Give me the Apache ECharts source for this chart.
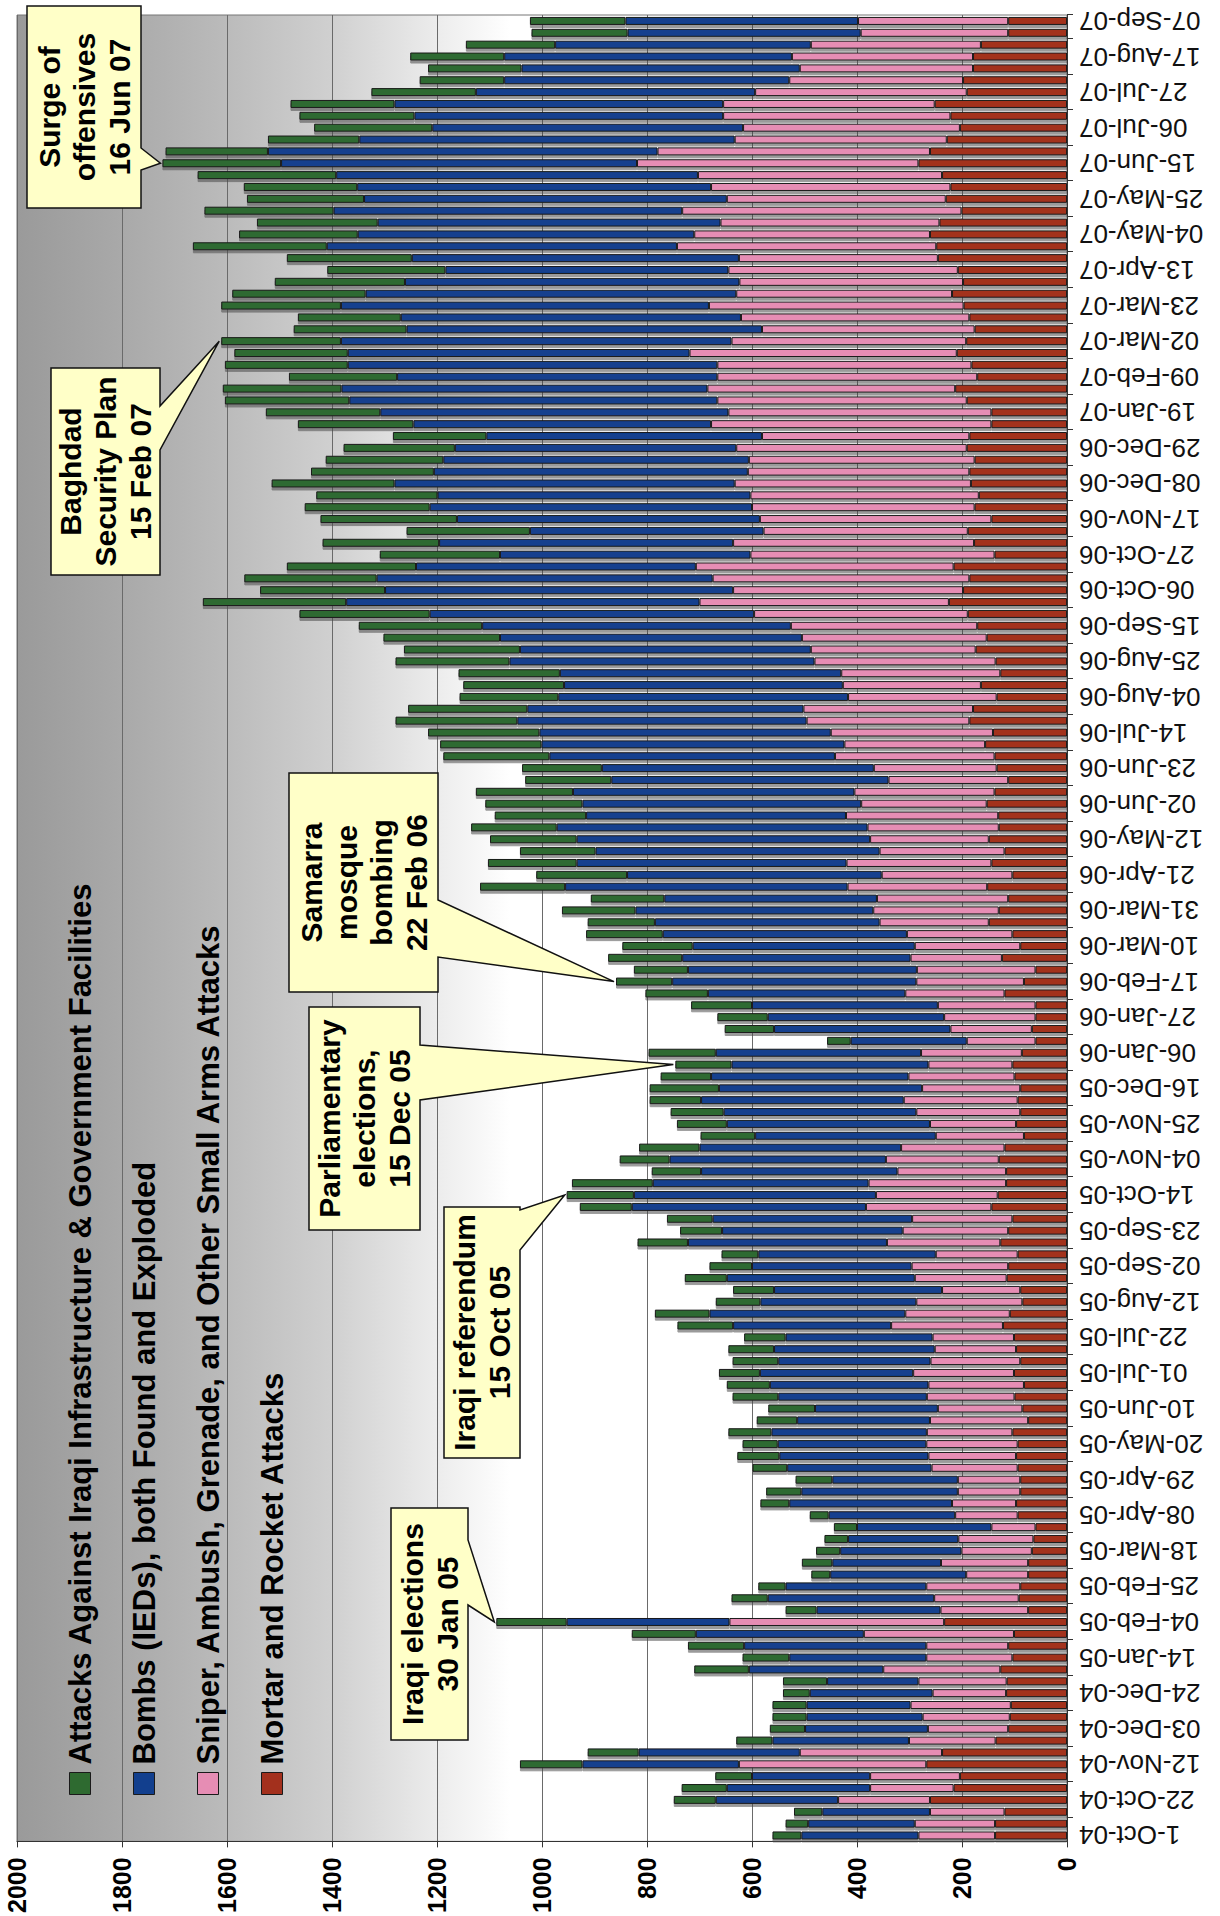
<!DOCTYPE html>
<html>
<head>
<meta charset="utf-8">
<title>Weekly attacks in Iraq, Oct 2004 - Sep 2007</title>
<script src="https://cdn.jsdelivr.net/npm/echarts@6/dist/echarts.min.js"></script>
<style>
  html, body { margin: 0; padding: 0; background: #fff; }
  body { width: 1220px; height: 1916px; overflow: hidden; position: relative; }
  /* chart is laid out landscape, then turned a quarter turn like the scanned page */
  #chart {
    position: absolute; left: 0; top: 0;
    width: 1916px; height: 1220px;
    transform-origin: 0 0;
    transform: translateY(1916px) rotate(-90deg);
  }
</style>
</head>
<body>
<div id="chart"></div>
<script>
// weekly periods (week ending)
const weeks = [
  '1-Oct-04','08-Oct-04','15-Oct-04','22-Oct-04','29-Oct-04','05-Nov-04','12-Nov-04','19-Nov-04','26-Nov-04','03-Dec-04',
  '10-Dec-04','17-Dec-04','24-Dec-04','31-Dec-04','07-Jan-05','14-Jan-05','21-Jan-05','28-Jan-05','04-Feb-05','11-Feb-05',
  '18-Feb-05','25-Feb-05','04-Mar-05','11-Mar-05','18-Mar-05','25-Mar-05','01-Apr-05','08-Apr-05','15-Apr-05','22-Apr-05',
  '29-Apr-05','06-May-05','13-May-05','20-May-05','27-May-05','03-Jun-05','10-Jun-05','17-Jun-05','24-Jun-05','01-Jul-05',
  '08-Jul-05','15-Jul-05','22-Jul-05','29-Jul-05','05-Aug-05','12-Aug-05','19-Aug-05','26-Aug-05','02-Sep-05','09-Sep-05',
  '16-Sep-05','23-Sep-05','30-Sep-05','07-Oct-05','14-Oct-05','21-Oct-05','28-Oct-05','04-Nov-05','11-Nov-05','18-Nov-05',
  '25-Nov-05','02-Dec-05','09-Dec-05','16-Dec-05','23-Dec-05','30-Dec-05','06-Jan-06','13-Jan-06','20-Jan-06','27-Jan-06',
  '03-Feb-06','10-Feb-06','17-Feb-06','24-Feb-06','03-Mar-06','10-Mar-06','17-Mar-06','24-Mar-06','31-Mar-06','07-Apr-06',
  '14-Apr-06','21-Apr-06','28-Apr-06','05-May-06','12-May-06','19-May-06','26-May-06','02-Jun-06','09-Jun-06','16-Jun-06',
  '23-Jun-06','30-Jun-06','07-Jul-06','14-Jul-06','21-Jul-06','28-Jul-06','04-Aug-06','11-Aug-06','18-Aug-06','25-Aug-06',
  '01-Sep-06','08-Sep-06','15-Sep-06','22-Sep-06','29-Sep-06','06-Oct-06','13-Oct-06','20-Oct-06','27-Oct-06','03-Nov-06',
  '10-Nov-06','17-Nov-06','24-Nov-06','01-Dec-06','08-Dec-06','15-Dec-06','22-Dec-06','29-Dec-06','05-Jan-07','12-Jan-07',
  '19-Jan-07','26-Jan-07','02-Feb-07','09-Feb-07','16-Feb-07','23-Feb-07','02-Mar-07','09-Mar-07','16-Mar-07','23-Mar-07',
  '30-Mar-07','06-Apr-07','13-Apr-07','20-Apr-07','27-Apr-07','04-May-07','11-May-07','18-May-07','25-May-07','01-Jun-07',
  '08-Jun-07','15-Jun-07','22-Jun-07','29-Jun-07','06-Jul-07','13-Jul-07','20-Jul-07','27-Jul-07','03-Aug-07','10-Aug-07',
  '17-Aug-07','24-Aug-07','31-Aug-07','07-Sep-07'
];

// series, bottom of the stack first
const mortarRocket = [
  137,137,119,261,216,204,268,238,136,112, 109,107,116,115,127,104,112,101,234,74,
  92,89,74,74,67,64,60,94,97,89, 89,94,97,94,104,74,85,100,82,101,
  89,97,101,122,109,85,89,115,112,94, 127,112,104,144,132,116,116,130,119,82,
  97,89,94,89,100,104,86,60,67,60, 60,119,82,60,124,89,104,149,130,112,
  152,104,144,119,149,130,131,153,138,112, 134,138,156,141,186,179,134,164,127,136,
  174,153,171,189,225,198,186,216,138,177, 189,144,176,168,183,186,176,191,186,144,
  144,191,213,171,182,210,192,176,186,197, 219,198,208,246,249,261,243,201,231,222,
  238,283,261,229,204,222,252,191,198,179, 179,164,112,112
];
const sniperAmbush = [
  146,153,142,175,159,171,357,271,165,153, 166,191,140,168,223,164,156,286,409,167,
  161,179,118,166,134,143,84,119,122,119, 119,164,167,174,163,187,161,167,182,192,
  171,155,155,213,199,202,149,175,184,156, 216,201,191,239,232,262,207,215,197,168,
  164,198,217,187,202,160,192,131,155,174, 186,189,205,226,174,201,201,208,239,250,
  266,249,276,238,226,250,290,239,267,228, 234,304,268,309,310,323,283,263,303,345,
  314,352,355,407,475,438,489,491,465,459, 389,441,424,435,450,422,430,439,395,534,
  501,475,472,495,484,509,447,405,435,485, 411,426,437,379,494,449,417,532,417,456,
  465,536,519,404,413,433,403,403,331,330, 345,324,281,286
];
const bombsIED = [
  223,203,205,233,273,225,298,307,260,234, 221,198,234,174,256,261,347,320,310,236,
  317,268,259,207,231,210,256,241,310,298, 239,275,284,283,296,253,234,283,302,292,
  290,306,280,301,373,297,320,358,304,338, 379,344,380,446,461,411,374,412,384,344,
  387,367,386,387,376,375,391,221,336,336, 354,376,465,436,435,423,465,428,453,405,
  538,485,514,541,559,592,495,531,536,528, 518,544,577,555,551,526,552,531,536,581,
  554,575,588,618,673,663,640,533,477,560, 445,577,614,596,648,598,582,536,525,567,
  663,701,697,610,704,651,744,677,648,701, 706,637,539,623,667,641,653,664,691,674,
  689,678,742,715,592,588,626,532,543,530, 548,487,444,443
];
const infrastructure = [
  55,43,54,80,86,70,119,97,69,67, 65,65,51,84,104,89,107,122,134,59,
  69,52,36,58,46,45,44,36,55,67, 70,66,80,67,82,77,89,87,82,78,
  87,87,79,106,104,85,78,80,81,70, 96,80,87,99,128,154,94,95,115,104,
  95,101,98,132,96,107,128,45,94,96, 116,119,107,103,141,134,146,128,140,140,
  162,173,169,144,165,163,174,185,185,164, 152,202,193,212,232,227,188,192,193,217,
  221,222,235,248,273,238,252,246,229,222, 235,260,238,231,234,234,224,212,178,220,
  218,237,226,206,234,216,228,215,196,228, 254,248,225,238,255,226,230,246,223,216,
  264,226,195,174,225,219,198,199,161,178, 179,170,183,182
];

const seriesNames = [
  'Attacks Against Iraqi Infrastructure & Government Facilities',
  'Bombs (IEDs), both Found and Exploded',
  'Sniper, Ambush, Grenade, and Other Small Arms Attacks',
  'Mortar and Rocket Attacks'
];

const valueMin = 0, valueMax = 2000, valueStep = 200;

// event callouts: week = index of the bar the pointer touches
const callouts = [
  { text: 'Surge of\noffensives\n16 Jun 07', week: 141, box: [1708, 27, 1910, 141], base: [1746, 1768] },
  { text: 'Baghdad\nSecurity Plan\n15 Feb 07', week: 126, box: [1341, 51, 1548, 160], base: [1466, 1510] },
  { text: 'Samarra\nmosque\nbombing\n22 Feb 06', week: 72, box: [924, 289, 1143, 438], base: [959, 1016] },
  { text: 'Parliamentary\nelections,\n15 Dec 05', week: 65, box: [686, 309, 909, 420], base: [816, 871] },
  { text: 'Iraqi referendum\n15 Oct 05', week: 54, box: [458, 444, 709, 520], base: [666, 706] },
  { text: 'Iraqi elections\n30 Jan 05', week: 18, box: [176, 391, 408, 468], base: [311, 376] }
];

const sans = "'Liberation Sans', Arial, sans-serif";

const chart = echarts.init(document.getElementById('chart'), null, { renderer: 'svg' });

function barSeries(name, data, color) {
  return {
    name: name,
    type: 'bar',
    stack: 'attacks',
    barWidth: 8,
    data: data,
    itemStyle: {
      color: color,
      borderColor: '#1a1a1a',
      borderWidth: 1,
      shadowColor: 'rgba(70,70,70,0.55)',
      shadowOffsetX: -3,
      shadowBlur: 0
    },
    emphasis: { disabled: true }
  };
}

chart.setOption({
  animation: false,
  backgroundColor: '#fff',
  grid: {
    left: 69, right: 15, top: 17, bottom: 153,
    show: true,
    borderColor: '#777',
    borderWidth: 1,
    backgroundColor: {
      type: 'linear', x: 0, y: 0, x2: 0, y2: 1,
      colorStops: [
        { offset: 0, color: '#9a9a9a' },
        { offset: 0.1, color: '#a9a9a9' },
        { offset: 0.2, color: '#bbbbbb' },
        { offset: 0.3, color: '#d0d0d0' },
        { offset: 0.4, color: '#ececec' },
        { offset: 0.47, color: '#ffffff' },
        { offset: 1, color: '#ffffff' }
      ]
    }
  },
  legend: {
    orient: 'vertical',
    left: 116,
    top: 58,
    itemGap: 30,
    itemWidth: 22,
    itemHeight: 21,
    icon: 'rect',
    selectedMode: false,
    data: seriesNames,
    itemStyle: { borderColor: '#1a1a1a', borderWidth: 1, shadowBlur: 0, shadowOffsetX: 0 },
    textStyle: {
      fontFamily: sans,
      fontWeight: 'bold',
      fontSize: 31,
      lineHeight: 34,
      color: '#000',
      padding: [0, 0, 0, 3]
    }
  },
  xAxis: {
    type: 'category',
    data: weeks,
    boundaryGap: true,
    axisLine: { show: true, lineStyle: { color: '#333', width: 1 } },
    axisTick: { show: true, length: 6, interval: i => i % 3 === 2, lineStyle: { color: '#333' } },
    axisLabel: {
      interval: 2,
      rotate: 90,
      margin: 12,
      fontFamily: sans,
      fontSize: 26,
      color: '#111'
    },
    splitLine: { show: false }
  },
  yAxis: {
    type: 'value',
    min: valueMin,
    max: valueMax,
    interval: valueStep,
    axisLine: { show: true, lineStyle: { color: '#333', width: 1 } },
    axisTick: { show: true, length: 6, lineStyle: { color: '#333' } },
    axisLabel: {
      margin: 16,
      fontFamily: sans,
      fontWeight: 'bold',
      fontSize: 25,
      color: '#000',
      formatter: v => String(v)
    },
    splitLine: { show: true, lineStyle: { color: '#6a6a6a', width: 1 } }
  },
  series: [
    barSeries(seriesNames[3], mortarRocket, '#a3301d'),
    barSeries(seriesNames[2], sniperAmbush, '#e68db4'),
    barSeries(seriesNames[1], bombsIED, '#123f8e'),
    barSeries(seriesNames[0], infrastructure, '#2e6a30')
  ]
});

// callout boxes with a wedge pointing at the top of the bar
function drawCallouts() {
  const graphics = [];
  callouts.forEach(c => {
    const total = infrastructure[c.week] + bombsIED[c.week] + sniperAmbush[c.week] + mortarRocket[c.week];
    const tip = chart.convertToPixel({ xAxisIndex: 0, yAxisIndex: 0 }, [c.week, total]);
    const [x0, y0, x1, y1] = c.box;
    const points = [
      [x0, y0], [x1, y0], [x1, y1],
      [c.base[1], y1], [tip[0], tip[1] - 2], [c.base[0], y1],
      [x0, y1]
    ];
    graphics.push({
      type: 'polygon', z: 100, silent: true,
      shape: { points: points },
      style: { fill: '#ffffc8', stroke: '#111', lineWidth: 1.5 }
    });
    graphics.push({
      type: 'text', z: 101, silent: true,
      x: (x0 + x1) / 2, y: (y0 + y1) / 2,
      style: {
        text: c.text,
        font: `bold 30px ${sans}`,
        fill: '#000',
        align: 'center',
        verticalAlign: 'middle',
        lineHeight: 35
      }
    });
  });
  chart.setOption({ graphic: graphics });
}

drawCallouts();
</script>
</body>
</html>
